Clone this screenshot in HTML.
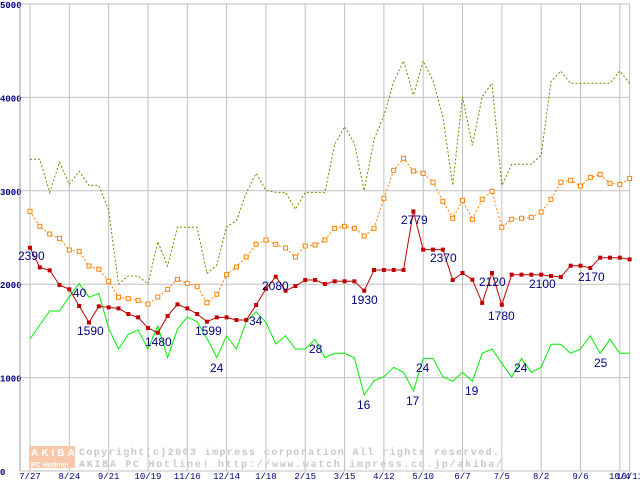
<!DOCTYPE html>
<html><head><meta charset="utf-8"><style>
html,body{margin:0;padding:0;background:#fff;}
svg{display:block;}
</style></head><body>
<svg id="chart" width="640" height="480" viewBox="0 0 640 480" xmlns="http://www.w3.org/2000/svg" font-family="Liberation Sans, sans-serif"></svg>
<script>
const xTickLabels = ["7/27","8/24","9/21","10/19","11/16","12/14","1/18","2/15","3/15","4/12","5/10","6/7","7/5","8/2","9/6","10/4"];
const lastXLabel = "10/11";
const yTicks = [0,1000,2000,3000,4000,5000];
const olive = [3337,3337,2983,3305,3069,3208,3058,3058,2794,2002,2088,2088,2002,2455,2195,2609,2609,2609,2116,2205,2616,2680,2979,3187,3005,2983,2983,2801,2983,2983,
2983,3498,3687,3508,3001,3551,3804,4168,4390,4026,4390,4179,3794,3058,4008,3487,4008,4151,3058,3284,3284,3284,3383,4168,4283,4151,4151,4151,4151,4151,4283,4151];
const orange = [2780,2620,2537,2491,2366,2352,2195,2160,2031,1860,1845,1827,1788,1863,1945,2052,2009,1977,1802,1892,2102,2184,2291,2427,2473,2427,2388,2291,2409,2420,
2473,2598,2620,2598,2516,2598,2920,3219,3348,3212,3187,3091,2888,2706,2898,2695,2909,2994,2609,2695,2706,2716,2773,2909,3091,3112,3051,3144,3176,3080,3069,3133];
const red = [2390,2180,2148,1991,1945,1767,1590,1763,1752,1741,1681,1645,1531,1480,1659,1784,1741,1681,1599,1645,1645,1617,1617,1777,1950,2080,1930,1980,2045,2045,
2002,2031,2031,2031,1930,2152,2152,2152,2152,2779,2370,2370,2370,2045,2120,2048,1800,2120,1780,2102,2102,2102,2102,2088,2077,2198,2198,2173,2284,2284,2284,2266];
const green = [1413,1563,1713,1713,1866,2009,1860,1902,1528,1306,1463,1510,1306,1552,1213,1517,1649,1599,1420,1213,1449,1306,1599,1706,1592,1360,1449,1306,1306,1410,
1213,1260,1260,1213,814,967,1010,1110,1057,857,1206,1206,1010,960,1057,960,1260,1306,1153,1003,1206,1057,1110,1356,1356,1260,1306,1449,1260,1410,1260,1260];
const priceLabels = [["2390",18,260],["40",73,297],["1590",77,335],["1480",145,346],["1599",195,335],["34",249,325],["2080",262,290],["1930",351,304],["2779",401,224],["2370",430,262],["2120",479,286],["1780",488,320],["2100",529,288],["2170",578,281]];
const countLabels = [["24",210,372],["28",309,353],["16",357,409],["17",406,405],["24",416,372],["19",465,395],["24",514,372],["25",594,367]];

const NS="http://www.w3.org/2000/svg";
const svg=document.getElementById('chart');
const X0=30, DX=9.83, Y0=471, KY=0.0934;
const xs=i=>X0+i*DX;
const ys=v=>Y0-v*KY;
function el(t,a,p){const e=document.createElementNS(NS,t);for(const k in a)e.setAttribute(k,a[k]);(p||svg).appendChild(e);return e;}

// grid
const grid=el('g',{});


yTicks.forEach(v=>{
  const l=el('line',{x1:20,x2:630,y1:ys(v),y2:ys(v),stroke:'#c0c0c0','stroke-width':1},grid);
  
  
  const t=el('text',{x:0,y:ys(v)+4,'font-size':9,'font-weight':'bold',fill:'#000080','font-family':'Liberation Mono, monospace'});
  t.textContent=v; 
  
});
xTickLabels.forEach((s,k)=>{
  const x=xs(k*4);
  const l=el('line',{x1:x,x2:x,y1:ys(5000),y2:Y0,stroke:'#c0c0c0','stroke-width':1},grid);
  
  
  const t=el('text',{x:x,y:479,'font-size':9,fill:'#000080','text-anchor':'middle','font-family':'Liberation Mono, monospace'});
  t.textContent=s; 
  
});
{const x=xs(red.length-1);
const l=el('line',{x1:x,x2:x,y1:ys(5000),y2:Y0,stroke:'#c0c0c0'},grid);


const t=el('text',{x:x,y:479,'font-size':9,fill:'#000080','text-anchor':'middle','font-family':'Liberation Mono, monospace'});
t.textContent=lastXLabel; 
}
const ax=el('line',{x1:20,x2:20,y1:ys(5000),y2:Y0,stroke:'#a0a0a0'});



// watermark
const wm=el('g',{});


el('rect',{x:29,y:446,width:46,height:12,fill:'#f8c8a8'},wm);
el('rect',{x:29,y:458,width:46,height:10,fill:'#f8c8a8'},wm);
const w1=el('text',{x:31,y:456,'font-size':10,'font-weight':'bold',fill:'#fff','letter-spacing':3},wm);w1.textContent='AKIBA';
const w2=el('text',{x:31,y:467,'font-size':7,'font-weight':'bold',fill:'#fff'},wm);w2.textContent='PC Hotline!';
const c1=el('text',{x:79,y:455,'font-size':10,'font-weight':'bold',fill:'#c8c8c8','font-family':'Liberation Mono, monospace','textLength':420},wm);c1.textContent='Copyright(c)2003 impress corporation All rights reserved.';
const c2=el('text',{x:79,y:467,'font-size':10,'font-weight':'bold',fill:'#c8c8c8','font-family':'Liberation Mono, monospace','textLength':423},wm);c2.textContent='AKIBA PC Hotline!  http://www.watch.impress.co.jp/akiba/';

function series(data,name,color,dash,width){
  const pts=data.map((v,i)=>xs(i).toFixed(1)+','+ys(v).toFixed(1)).join(' ');
  const p=el('polyline',{points:pts,fill:'none',stroke:color,'stroke-width':width,'stroke-dasharray':dash||'none'});
  
  
  return p;
}
series(olive,'olive-series-line','#808000','2,2',1);
series(orange,'orange-series-line','#ff8000','2,2',1);
orange.forEach((v,i)=>{
  const r=el('rect',{x:xs(i)-2,y:ys(v)-2,width:4,height:4,fill:'#fff',stroke:'#ff8000','stroke-width':1});
  
  
});
series(green,'green-series-line','#00ee00',null,1);
series(red,'red-series-line','#c00000',null,1);
red.forEach((v,i)=>{
  const r=el('rect',{x:xs(i)-2,y:ys(v)-2,width:4,height:4,fill:'#c00000'});
  
  
});
priceLabels.concat(countLabels).forEach(([s,x,y])=>{
  const t=el('text',{x:x,y:y,'font-size':12,fill:'#000080'});
  t.textContent=s;
  
  
});
</script>
</body></html>
